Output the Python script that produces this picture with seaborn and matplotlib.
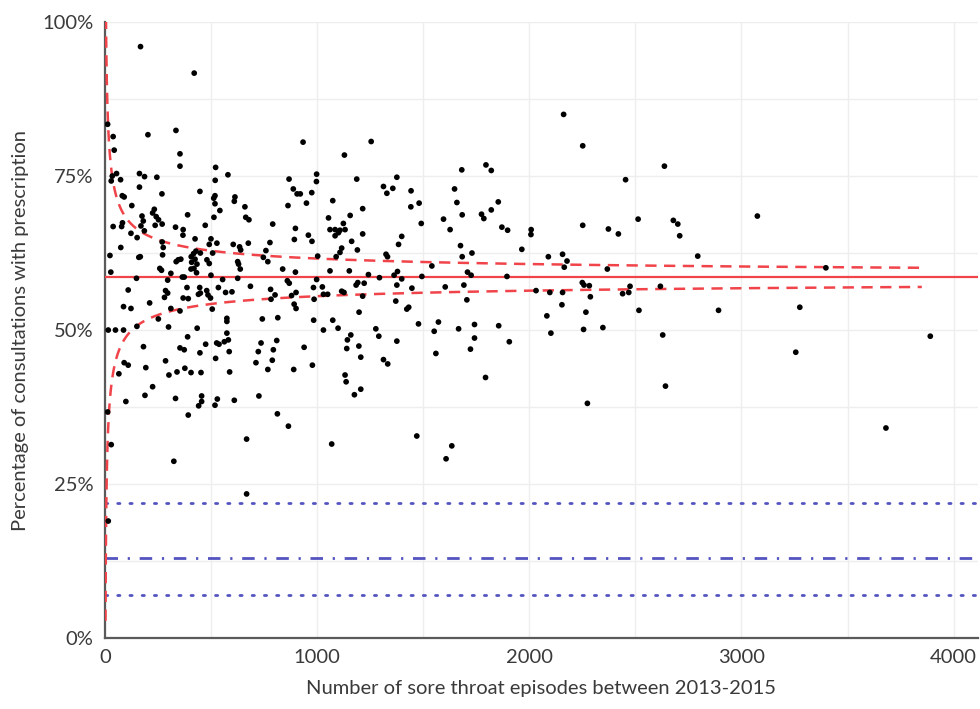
import numpy as np
import pandas as pd
import matplotlib
matplotlib.use("Agg")
import matplotlib.pyplot as plt
import seaborn as sns
from matplotlib.ticker import FuncFormatter, MultipleLocator

# ---- data: practice-level points (episodes, % consultations with prescription)
episodes = [
    168, 421, 13, 39, 44, 203, 335, 354, 354, 934, 522, 580, 55, 35, 30, 74, 163, 187, 245, 163,
    82, 91, 269, 448, 520, 519, 513, 519, 613, 610, 542, 660, 127, 233, 225, 175, 242, 390, 514, 664,
    868, 888, 906, 921, 975, 998, 997, 863, 950,
    39, 79, 83, 123, 152, 170, 186, 181, 237, 253, 270, 333, 369, 368, 473, 679, 791, 898, 893, 959,
    976, 778, 676, 605, 635, 640, 500, 528, 492, 425, 275, 270, 75, 24, 28, 418, 429, 407, 425, 409,
    434, 406, 420, 432, 450, 346, 336, 358, 272, 259, 267, 311, 167, 160, 481, 492, 508, 626, 630, 638,
    747, 759, 768, 838, 898, 500, 365, 374, 149, 296, 555, 626, 860, 869, 998, 110, 286, 296, 281, 387,
    369, 393, 447, 450, 441, 480, 486, 498, 535, 569, 599, 686, 781, 802, 783, 901, 880, 892, 901, 983,
    88, 123, 211, 311, 354, 506, 252, 151, 300, 435, 575, 575, 742, 815, 984, 16, 50, 88, 575, 390,
    182, 354, 374, 448, 475, 527, 538, 563, 582, 586, 522, 736, 723, 794, 810, 939, 789, 712, 768, 890,
    978, 91, 110, 66, 193, 286, 302, 340, 377, 406, 453, 588, 225, 189, 333, 456, 530, 726,
    99, 456, 442, 393, 519, 610, 813, 865, 668, 325, 668, 13, 30, 16,
    1255, 1129, 1682, 1796, 1821, 1187, 1376, 1313, 1329, 1357, 1443, 1442, 1481, 1491, 1074, 1054, 1061, 1085,
    1085, 1101, 1108, 1124, 1132, 1156, 1215, 1215, 1163, 1190, 1116, 1108, 1090, 1003, 1399, 1384, 1325, 1332,
    1596, 1627, 1648, 1659, 1684, 1775, 1786, 1821, 1854, 1871, 1898, 2009, 2008, 1965, 1676, 1684, 1730, 1541,
    1061, 1152, 1242, 1294, 1363, 1379, 1399, 1494, 1709, 1726, 1895, 2032, 1025, 1030, 1050, 986, 1184, 1192,
    1222, 1116, 1127, 1215, 1376, 1447, 1371, 1198, 1423, 1432, 1604, 1692, 1706, 1074, 1030, 1099, 1159, 1143,
    1140, 1197, 1206, 1277, 1291, 1313, 1333, 1376, 1478, 1572, 1552, 1560, 1667, 1742, 1742, 1723, 1856, 1906,
    1794, 1132, 1137, 1176, 1206, 1470, 1069, 1635, 1608,
    2162, 2252, 2637, 2454, 3075, 2252, 2373, 2420, 2513, 2679, 2700, 2709, 2794, 2090, 2157, 2178, 2165, 2368,
    3398, 2097, 2157, 2154, 2250, 2258, 2283, 2288, 2267, 2256, 2083, 2102, 2347, 2440, 2469, 2475, 2517, 2618,
    2629, 2642, 2274, 2892, 3275, 3256, 3681, 3890,
]
pct_prescribed = [
    96.0, 91.7, 83.4, 81.4, 79.2, 81.7, 82.4, 78.6, 76.6, 80.5, 76.4, 75.2, 75.4, 75.0, 74.2, 74.4, 75.4, 74.9, 74.8, 73.2,
    71.8, 71.6, 72.1, 72.5, 74.3, 71.8, 71.4, 70.5, 71.6, 70.9, 69.4, 70.0, 70.2, 69.6, 69.0, 68.5, 68.4, 68.7, 68.3, 68.3,
    74.5, 72.9, 72.1, 72.1, 72.3, 75.3, 74.1, 70.2, 70.6,
    66.8, 66.8, 67.4, 65.7, 65.0, 66.9, 66.1, 67.7, 67.0, 67.9, 67.2, 66.7, 66.3, 65.4, 67.0, 67.9, 67.2, 66.5, 64.7, 65.4,
    64.4, 64.2, 64.1, 63.9, 63.5, 63.0, 64.8, 64.1, 63.9, 64.8, 63.4, 64.3, 63.4, 62.1, 59.4, 62.4, 62.8, 61.9, 61.5, 61.0,
    60.7, 59.9, 60.0, 59.3, 62.5, 61.4, 61.1, 61.5, 62.2, 60.0, 59.7, 59.2, 61.9, 61.8, 61.4, 60.8, 62.5, 61.1, 60.7, 59.9,
    61.8, 62.9, 61.1, 59.9, 59.4, 58.9, 58.6, 58.6, 58.4, 58.1, 58.2, 58.4, 58.0, 57.6, 58.2, 56.5, 56.4, 56.0, 55.3, 56.9,
    55.2, 55.1, 56.9, 56.0, 55.8, 56.4, 55.7, 55.2, 56.9, 56.1, 56.2, 57.1, 56.6, 55.7, 55.0, 56.1, 55.6, 54.2, 53.5, 56.9,
    53.8, 53.5, 54.4, 53.5, 53.1, 53.4, 51.8, 50.6, 50.5, 50.3, 51.9, 51.4, 51.8, 52.0, 51.6, 50.0, 50.0, 50.0, 49.5, 48.9,
    47.3, 47.1, 46.8, 46.3, 47.7, 47.9, 47.7, 48.1, 48.4, 46.5, 45.4, 47.9, 46.5, 46.8, 48.3, 47.2, 45.1, 44.7, 43.6, 43.6,
    44.3, 44.7, 44.3, 42.9, 43.9, 45.0, 42.7, 43.2, 43.8, 43.1, 43.1, 43.2, 40.8, 39.4, 38.9, 39.3, 38.8, 39.3,
    38.4, 38.4, 37.7, 36.2, 37.8, 38.6, 36.4, 34.4, 32.3, 28.7, 23.4, 36.7, 31.4, 19.0,
    80.6, 78.4, 76.0, 76.8, 75.9, 74.5, 74.8, 73.3, 72.2, 73.0, 72.6, 70.0, 70.6, 67.3, 71.0, 68.2, 66.3, 66.3,
    65.3, 65.8, 66.2, 67.3, 66.3, 68.6, 69.7, 65.6, 64.4, 63.0, 63.3, 62.6, 61.9, 62.0, 65.2, 63.9, 62.3, 61.9,
    68.0, 66.3, 72.9, 70.7, 68.7, 68.8, 68.1, 69.5, 70.8, 66.7, 66.2, 66.3, 65.5, 63.1, 63.7, 61.9, 62.5, 60.4,
    59.6, 59.6, 59.0, 58.5, 58.9, 59.5, 58.3, 58.7, 59.4, 58.9, 58.7, 56.4, 57.0, 55.8, 55.8, 55.0, 57.3, 57.7,
    57.6, 56.3, 56.1, 55.5, 57.3, 56.8, 54.7, 52.9, 53.4, 53.7, 57.0, 57.3, 54.9, 51.6, 50.0, 50.3, 49.2, 48.4,
    47.0, 47.4, 45.6, 50.2, 49.0, 45.2, 44.5, 48.2, 51.0, 51.3, 49.8, 46.2, 50.2, 50.9, 48.7, 46.9, 50.7, 48.1,
    42.3, 42.7, 41.6, 39.5, 40.4, 32.8, 31.5, 31.2, 29.1,
    85.0, 79.9, 76.6, 74.4, 68.5, 67.0, 66.4, 65.6, 68.0, 67.8, 67.2, 65.3, 62.0, 61.9, 62.3, 61.2, 60.2, 59.9,
    60.1, 56.1, 56.1, 54.1, 57.7, 57.3, 57.2, 55.4, 52.9, 50.1, 52.3, 49.5, 50.4, 55.9, 56.1, 57.1, 53.2, 57.1,
    49.2, 40.9, 38.1, 53.2, 53.7, 46.4, 34.1, 49.0,
]

overall_mean = 58.55          # national average (%)
ref_upper = 22.0              # blue dotted upper reference
ref_mid = 13.0                # blue dash-dot reference
ref_lower = 7.0               # blue dotted lower reference
limit_n_max = 3850            # funnel limits drawn up to this n
z95 = 1.96

df = pd.DataFrame({"episodes": episodes, "pct": pct_prescribed})

# funnel (95% control limits around the mean)
n_grid = np.geomspace(3, limit_n_max, 600)
p = overall_mean / 100
se = np.sqrt(p * (1 - p) / n_grid)
lim = pd.DataFrame({"n": n_grid,
                    "upper": (p + z95 * se) * 100,
                    "lower": (p - z95 * se) * 100})

sns.set_theme(style="white")
plt.rcParams["font.family"] = ["Lato", "DejaVu Sans"]

fig = plt.figure(figsize=(9.8, 7.09), dpi=100)
ax = fig.add_axes([0.107, 0.100, 0.891, 0.869])

ax.set_xlim(0, 4115)
ax.set_ylim(0, 100)

# grid
ax.xaxis.set_major_locator(MultipleLocator(1000))
ax.xaxis.set_minor_locator(MultipleLocator(500))
ax.yaxis.set_major_locator(MultipleLocator(25))
ax.yaxis.set_minor_locator(MultipleLocator(12.5))
ax.grid(which="both", color="#eeeeee", linewidth=1.0, zorder=0)
ax.set_axisbelow(True)

red = "#f0444a"
blue = "#5454c0"

ax.axhline(ref_upper, color=blue, linestyle=(0, (0.8, 3.6)), linewidth=2.0, dash_capstyle="round", zorder=2)
ax.axhline(ref_lower, color=blue, linestyle=(0, (0.8, 3.6)), linewidth=2.0, dash_capstyle="round", zorder=2)
ax.axhline(ref_mid, color=blue, linestyle=(0, (4.5, 3.5, 0.8, 3.5)), linewidth=2.0, zorder=2)

sns.lineplot(data=lim, x="n", y="upper", ax=ax, color=red, linestyle=(0, (4.5, 3)),
             linewidth=1.8, zorder=3, estimator=None, sort=False)
sns.lineplot(data=lim, x="n", y="lower", ax=ax, color=red, linestyle=(0, (4.5, 3)),
             linewidth=1.8, zorder=3, estimator=None, sort=False)
ax.axhline(overall_mean, color=red, linewidth=1.6, zorder=3)

sns.scatterplot(data=df, x="episodes", y="pct", ax=ax, color="black", s=17,
                edgecolor="none", linewidth=0, zorder=4)

ax.yaxis.set_major_formatter(FuncFormatter(lambda v, _: f"{v:.0f}%"))
ax.tick_params(axis="both", which="both", length=0, labelsize=14.5, colors="#3a3a3a", pad=8)

for side in ["top", "right"]:
    ax.spines[side].set_visible(False)
for side in ["left", "bottom"]:
    ax.spines[side].set_color("#5a5a5a")
    ax.spines[side].set_linewidth(1.6)

ax.set_xlabel("Number of sore throat episodes between 2013-2015", fontsize=14.5, color="#3a3a3a", labelpad=10)
ax.set_ylabel("Percentage of consultations with prescription", fontsize=14.5, color="#3a3a3a", labelpad=10)

fig.savefig("out.png", dpi=100)
